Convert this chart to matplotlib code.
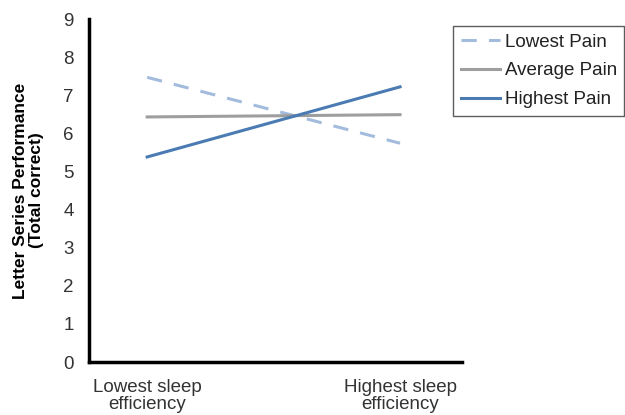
import matplotlib.pyplot as plt

plt.rcParams['font.family'] = ['Liberation Sans', 'DejaVu Sans']

categories = ['Lowest sleep\nefficiency', 'Highest sleep\nefficiency']
lowest_pain = [7.47, 5.74]
average_pain = [6.43, 6.49]
highest_pain = [5.38, 7.22]
x = [0, 1]

fig = plt.figure(figsize=(6.25, 4.15), dpi=100)
ax = fig.add_axes([0.1424, 0.1277, 0.5968, 0.8265])

ax.plot(x, lowest_pain, color='#a3bbdd', lw=2.2, dashes=(5, 4), label='Lowest Pain')
ax.plot(x, average_pain, color='#9e9e9e', lw=2.2, label='Average Pain')
ax.plot(x, highest_pain, color='#4a7bb3', lw=2.2, label='Highest Pain')

ax.set_xlim(-0.23, 1.245)
ax.set_ylim(0, 9)
ax.set_yticks(range(10))
ax.set_xticks(x)
ax.set_xticklabels(categories, linespacing=1.05)
ax.tick_params(length=0, labelsize=13.5, colors='#333333', pad=12)
ax.tick_params(axis='y', pad=11)
for s in ['top', 'right']:
    ax.spines[s].set_visible(False)
for s in ['left', 'bottom']:
    ax.spines[s].set_linewidth(2.5)
    ax.spines[s].set_color('black')

ax.set_ylabel('Letter Series Performance\n(Total correct)', fontsize=12.5, fontweight='bold',
              labelpad=14, linespacing=1.1)

leg = ax.legend(loc='upper left', bbox_to_anchor=(453 / 625, 1 - 26 / 415),
                bbox_transform=fig.transFigure, borderaxespad=0, fancybox=False,
                fontsize=13.5, handlelength=2.1, handletextpad=0.25, labelspacing=0.62,
                borderpad=0.4, labelcolor='#222222')
leg.get_frame().set_edgecolor('#333333')
leg.get_frame().set_linewidth(1.0)

plt.savefig('out.png', dpi=100)
